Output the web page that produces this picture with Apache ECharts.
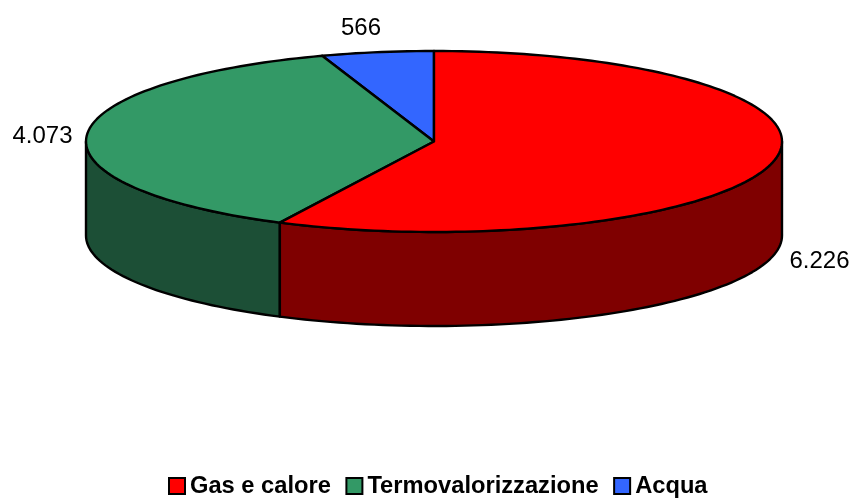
<!DOCTYPE html>
<html>
<head>
<meta charset="utf-8">
<style>html,body{margin:0;padding:0;background:#fff}#c{width:853px;height:498px}</style>
<script src="https://cdn.jsdelivr.net/npm/echarts@6/dist/echarts.min.js"></script>
</head>
<body>
<div id="c"></div>
<script>
var categories = ['Gas e calore', 'Termovalorizzazione', 'Acqua'];
var values = [6226, 4073, 566];
var valueLabels = ['6.226', '4.073', '566'];
var topColors = ['#ff0000', '#339966', '#3366ff'];
var sideColors = ['#7f0000', '#1c4f36', '#19337f'];
var labelAnchors = [[819.5, 261], [42.5, 136], [361, 28]];

var geom = { cx: 434, cy: 141.5, rx: 348, ry: 90.5, depth: 94 };
var total = values.reduce(function (a, b) { return a + b; }, 0);
var DEG = 360 / total;

function pt(t, dy) {
  var r = t * Math.PI / 180;
  return [geom.cx + geom.rx * Math.sin(r), geom.cy - geom.ry * Math.cos(r) + (dy || 0)];
}
function arc(a, b, dy) {
  var out = [];
  var n = Math.max(2, Math.ceil(Math.abs(b - a) / 1.5));
  for (var i = 0; i <= n; i++) out.push(pt(a + (b - a) * i / n, dy));
  return out;
}
function startOf(idx) {
  var s = 0;
  for (var i = 0; i < idx; i++) s += values[i];
  return s * DEG;
}
var stroke = { stroke: '#000', lineWidth: 2.4, lineJoin: 'round' };

function makeRender(idx) {
  return function (params, api) {
    var a = startOf(idx);
    var b = a + api.value(0) * DEG;
    var children = [];
    var sa = Math.max(a, 90), sb = Math.min(b, 270);
    if (sb > sa) {
      var wall = arc(sa, sb, 0).concat(arc(sb, sa, geom.depth));
      children.push({
        type: 'polygon', z2: 1,
        shape: { points: wall },
        style: Object.assign({ fill: sideColors[idx] }, stroke)
      });
    }
    var top = [[geom.cx, geom.cy]].concat(arc(a, b, 0));
    children.push({
      type: 'polygon', z2: 2,
      shape: { points: top },
      style: Object.assign({ fill: topColors[idx] }, stroke)
    });
    children.push({
      type: 'text', z2: 3,
      style: {
        text: valueLabels[idx],
        x: labelAnchors[idx][0], y: labelAnchors[idx][1],
        align: 'center', verticalAlign: 'middle',
        font: '24px "Liberation Sans", Arial, sans-serif',
        fill: '#000'
      }
    });
    return { type: 'group', children: children };
  };
}

var series = categories.map(function (name, i) {
  return {
    type: 'custom',
    name: name,
    coordinateSystem: 'none',
    silent: true,
    animation: false,
    z: 10 - i,
    renderItem: makeRender(i),
    itemStyle: { color: topColors[i], borderColor: '#000', borderWidth: 2 },
    data: [[values[i]]]
  };
});

var chart = echarts.init(document.getElementById('c'), null, { renderer: 'canvas' });
chart.setOption({
  animation: false,
  backgroundColor: '#fff',
  legend: {
    data: categories,
    left: 168,
    top: 474,
    padding: 0,
    itemWidth: 16,
    itemHeight: 16,
    itemGap: 14.5,
    icon: 'rect',
    selectedMode: false,
    textStyle: {
      fontFamily: '"Liberation Sans", Arial, sans-serif',
      fontWeight: 'bold',
      fontSize: 23.7,
      color: '#000'
    }
  },
  series: series
});
</script>
</body>
</html>
